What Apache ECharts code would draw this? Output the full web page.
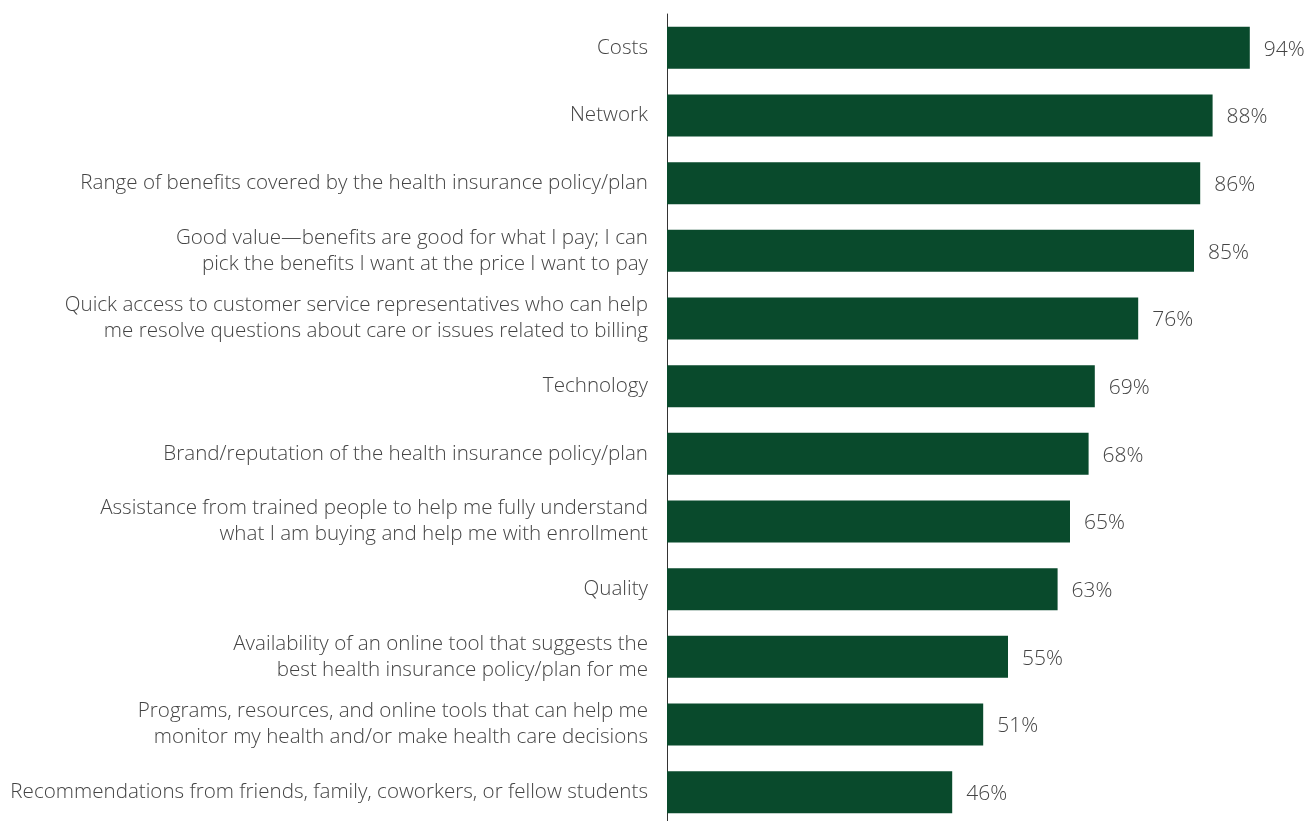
<!DOCTYPE html>
<html>
<head>
<meta charset="utf-8">
<script src="https://cdn.jsdelivr.net/npm/echarts@6/dist/echarts.min.js"></script>
<style>
  html, body { margin: 0; padding: 0; background: #fff; overflow: hidden; }
  #chart { width: 1308px; height: 830px; }
</style>
</head>
<body>
<div id="chart"></div>
<script>
// Factors considered when choosing a health insurance policy/plan
const categories = [
  'Costs',
  'Network',
  'Range of benefits covered by the health insurance policy/plan',
  'Good value\u2014benefits are good for what I pay; I can\npick the benefits I want at the price I want to pay',
  'Quick access to customer service representatives who can help\nme resolve questions about care or issues related to billing',
  'Technology',
  'Brand/reputation of the health insurance policy/plan',
  'Assistance from trained people to help me fully understand\nwhat I am buying and help me with enrollment',
  'Quality',
  'Availability of an online tool that suggests the\nbest health insurance policy/plan for me',
  'Programs, resources, and online tools that can help me\nmonitor my health and/or make health care decisions',
  'Recommendations from friends, family, coworkers, or fellow students'
];
const shares = [94, 88, 86, 85, 76, 69, 68, 65, 63, 55, 51, 46];

const chart = echarts.init(document.getElementById('chart'));
const font = '"Open Sans", "Noto Sans", sans-serif';

chart.setOption({
  animation: false,
  grid: { left: 667, right: 21, top: 14, bottom: 4, containLabel: false },
  xAxis: {
    type: 'value', min: 0, max: 100,
    show: false
  },
  yAxis: {
    type: 'category',
    inverse: true,
    data: categories,
    axisLine: { show: true, lineStyle: { color: '#333', width: 1 } },
    axisTick: { show: false },
    axisLabel: {
      margin: 19,
      color: '#444',
      fontFamily: font,
      fontWeight: 300,
      fontSize: 20.6,
      lineHeight: 26,
      padding: [4, 0, 0, 0],
      align: 'right'
    }
  },
  series: [{
    type: 'bar',
    data: shares,
    barWidth: 42,
    itemStyle: { color: '#094a2c' },
    label: {
      show: true,
      position: 'right',
      distance: 14,
      offset: [0, 2],
      formatter: '{c}%',
      color: '#444',
      fontFamily: font,
      fontWeight: 300,
      fontSize: 21
    }
  }]
});
</script>
</body>
</html>
